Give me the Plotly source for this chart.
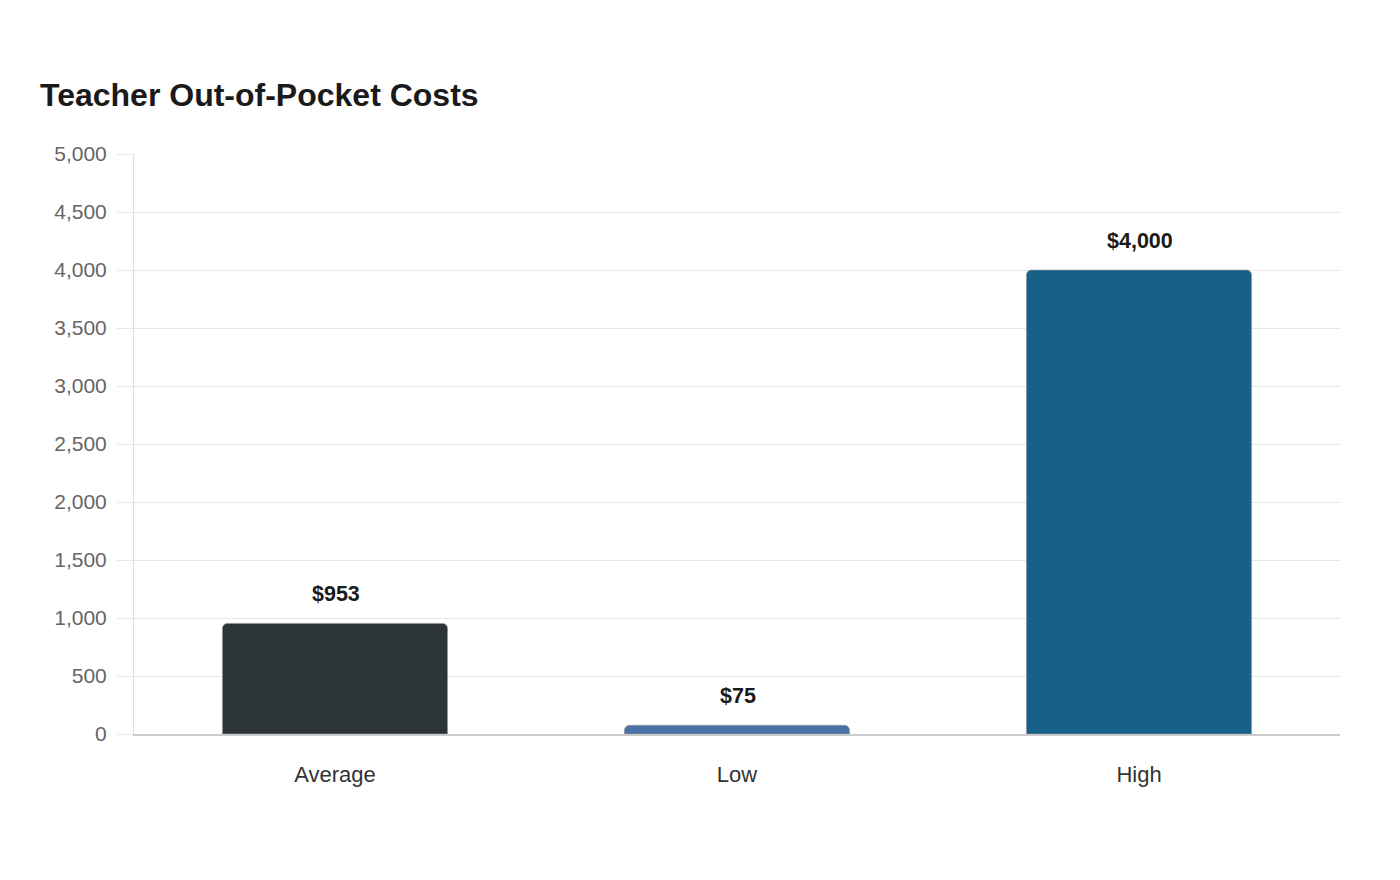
import plotly.graph_objects as go

categories = ["Average", "Low", "High"]
values = [953, 75, 4000]
labels = ["$953", "$75", "$4,000"]
colors = ["#2d3436", "#4a72a6", "#176087"]
y_ticks = [0, 500, 1000, 1500, 2000, 2500, 3000, 3500, 4000, 4500, 5000]

fig = go.Figure()
fig.add_trace(go.Bar(
    x=categories, y=values,
    marker=dict(color=colors, line=dict(color="rgba(150,150,150,0.6)", width=1)),
    width=0.56,
    hoverinfo="skip",
))

for c, v, t in zip(categories, values, labels):
    fig.add_annotation(x=c, y=v, text=f"<b>{t}</b>", showarrow=False,
                       yshift=29, xshift=1, font=dict(size=21.5, color="#1a1a1a",
                                            family="Liberation Sans, Arial, sans-serif"))

fig.update_layout(
    width=1400, height=880,
    margin=dict(l=134, r=60, t=154, b=146),
    paper_bgcolor="white", plot_bgcolor="white",
    barcornerradius=5,
    showlegend=False,
    font=dict(family="Liberation Sans, Arial, sans-serif"),
    title=dict(text="<b>Teacher Out-of-Pocket Costs</b>", x=40/1400, xanchor="left",
               y=1-95/880, yanchor="middle",
               font=dict(size=32, color="#1a1a1a")),
)
fig.update_yaxes(range=[0, 5000], tickvals=y_ticks, tickformat=",",
                 showgrid=True, gridcolor="#e8e8e8", gridwidth=1,
                 ticks="outside", ticklen=16, tickcolor="#e8e8e8",
                 ticklabelstandoff=6,
                 showline=True, linecolor="#dddddd", linewidth=1,
                 tickfont=dict(size=21, color="#666666"), zeroline=False)
fig.update_xaxes(showline=True, linecolor="#cccccc", linewidth=2,
                 tickfont=dict(size=22, color="#333333"), ticklen=0,
                 ticks="", ticklabelstandoff=20)

fig.write_html("out.html")
